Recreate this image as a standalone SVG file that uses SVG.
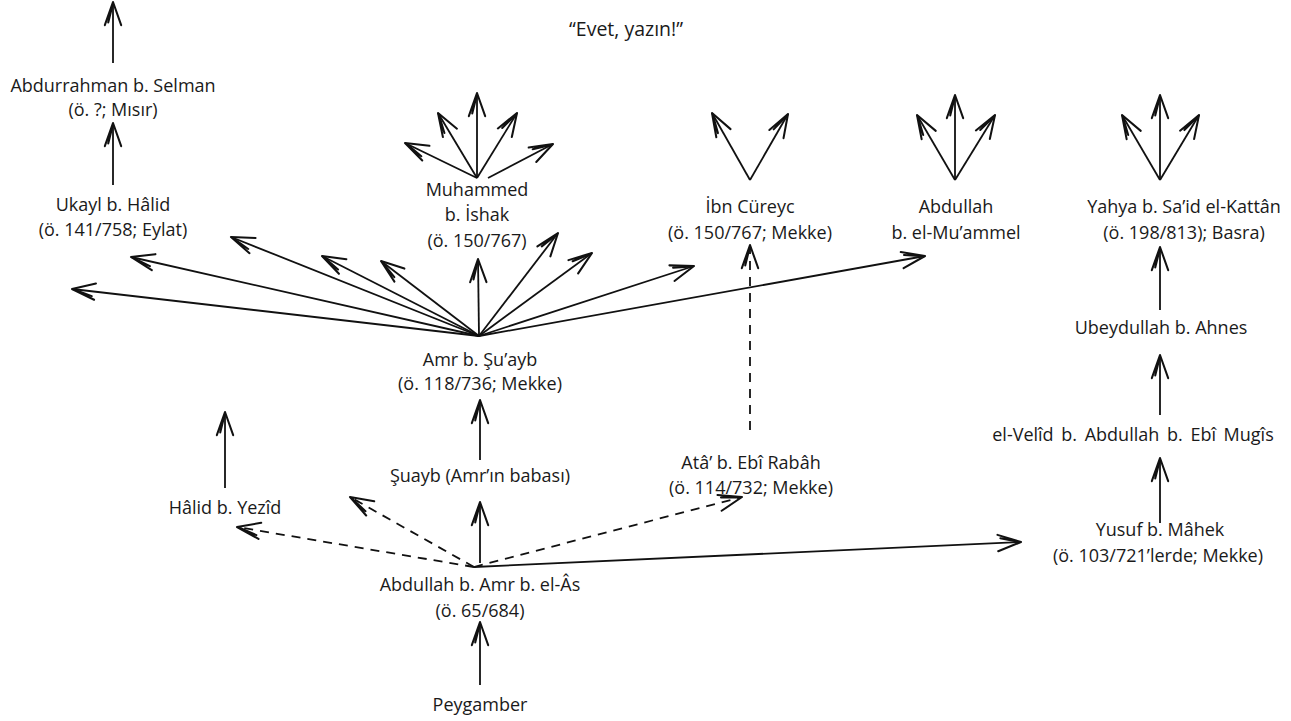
<svg xmlns="http://www.w3.org/2000/svg" width="1291" height="721" viewBox="0 0 1291 721">
<defs>
<marker id="ah" markerUnits="userSpaceOnUse" markerWidth="30" markerHeight="30" refX="0" refY="0" viewBox="-20 -10 22 20" orient="auto" overflow="visible">
<path d="M-17,-6 L0,0 L-17,6 M-15,-3.5 L-1,0" fill="none" stroke="#111" stroke-width="1.5" stroke-linejoin="round" stroke-linecap="round"/>
</marker>
</defs>
<style>
text{font-family:"Open Sans","Liberation Sans",sans-serif;font-size:18px;fill:#1a1a1a;text-anchor:middle}
.t{font-size:19.5px}
.c line{stroke:#111;stroke-width:1.8;fill:none;marker-end:url(#ah)}
.c line.d{stroke-dasharray:9,7}
</style>
<rect width="1291" height="721" fill="#fff"/>
<g id="title"><text class="t" x="626" y="36">“Evet, yazın!”</text></g>
<g id="abdurrahman"><text x="113" y="92">Abdurrahman b. Selman</text><text x="113" y="116">(ö. ?; Mısır)</text></g>
<g id="ukayl"><text x="113" y="211">Ukayl b. Hâlid</text><text x="113" y="236">(ö. 141/758; Eylat)</text></g>
<g id="muhammed"><text x="477" y="196">Muhammed</text><text x="477" y="221">b. İshak</text><text x="477" y="247">(ö. 150/767)</text></g>
<g id="ibncureyc"><text x="750" y="213">İbn Cüreyc</text><text x="750" y="239">(ö. 150/767; Mekke)</text></g>
<g id="abdullah-muammel"><text x="956" y="213">Abdullah</text><text x="956" y="239">b. el-Mu’ammel</text></g>
<g id="yahya"><text x="1184" y="213">Yahya b. Sa’id el-Kattân</text><text x="1184" y="239">(ö. 198/813); Basra)</text></g>
<g id="ubeydullah"><text x="1161" y="334">Ubeydullah b. Ahnes</text></g>
<g id="amr"><text x="480" y="366">Amr b. Şu’ayb</text><text x="480" y="390">(ö. 118/736; Mekke)</text></g>
<g id="velid"><text x="1133" y="441" word-spacing="3">el-Velîd b. Abdullah b. Ebî Mugîs</text></g>
<g id="suayb"><text x="480" y="482">Şuayb (Amr’ın babası)</text></g>
<g id="ata"><text x="751" y="469">Atâ’ b. Ebî Rabâh</text><text x="751" y="494">(ö. 114/732; Mekke)</text></g>
<g id="halid"><text x="225" y="514">Hâlid b. Yezîd</text></g>
<g id="yusuf"><text x="1160" y="536">Yusuf b. Mâhek</text><text x="1158" y="562">(ö. 103/721’lerde; Mekke)</text></g>
<g id="abdullah-amr"><text x="480" y="591">Abdullah b. Amr b. el-Âs</text><text x="480" y="617">(ö. 65/684)</text></g>
<g id="peygamber"><text x="480" y="711">Peygamber</text></g>
<g class="c" id="connectors">
<line x1="113" y1="63" x2="113" y2="2"/>
<line x1="113" y1="185" x2="113" y2="123"/>
<line x1="479" y1="336" x2="72" y2="289"/>
<line x1="479" y1="336" x2="131" y2="257"/>
<line x1="479" y1="336" x2="231" y2="237"/>
<line x1="479" y1="336" x2="322" y2="256"/>
<line x1="479" y1="336" x2="381" y2="261"/>
<line x1="479" y1="336" x2="478" y2="259"/>
<line x1="479" y1="336" x2="558" y2="233"/>
<line x1="479" y1="336" x2="592" y2="253"/>
<line x1="479" y1="336" x2="694" y2="266"/>
<line x1="479" y1="336" x2="925" y2="256"/>
<line x1="477" y1="178" x2="405" y2="143"/>
<line x1="477" y1="178" x2="438" y2="113"/>
<line x1="477" y1="178" x2="477" y2="93"/>
<line x1="477" y1="178" x2="517" y2="113"/>
<line x1="488" y1="178" x2="553" y2="144"/>
<line x1="750" y1="180" x2="712" y2="113"/>
<line x1="750" y1="180" x2="788" y2="114"/>
<line x1="955" y1="180" x2="917" y2="115"/>
<line x1="955" y1="180" x2="955" y2="95"/>
<line x1="955" y1="180" x2="995" y2="115"/>
<line x1="1160" y1="180" x2="1122" y2="115"/>
<line x1="1160" y1="180" x2="1160" y2="95"/>
<line x1="1160" y1="180" x2="1199" y2="115"/>
<line x1="1160" y1="310" x2="1160" y2="247"/>
<line x1="1160" y1="415" x2="1160" y2="355"/>
<line x1="1160" y1="523" x2="1160" y2="458"/>
<line class="d" x1="750" y1="430" x2="750" y2="245"/>
<line x1="480" y1="460" x2="480" y2="400"/>
<line x1="480" y1="563" x2="480" y2="502"/>
<line x1="480" y1="685" x2="480" y2="622"/>
<line x1="225" y1="488" x2="225" y2="412"/>
<line class="d" x1="474" y1="567" x2="237" y2="527"/>
<line class="d" x1="474" y1="567" x2="350" y2="497"/>
<line class="d" x1="474" y1="567" x2="742" y2="497"/>
<line x1="474" y1="567" x2="1021" y2="542"/>
</g>
</svg>
